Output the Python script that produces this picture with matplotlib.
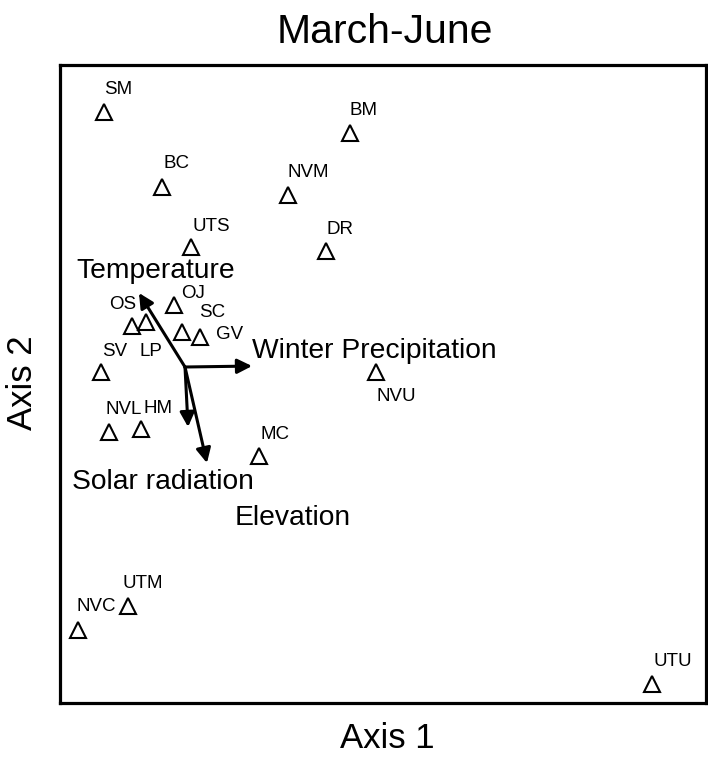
import numpy as np
import matplotlib.pyplot as plt

plt.rcParams['font.family'] = ['Liberation Sans', 'DejaVu Sans']

# site scores on the two ordination axes
sites = ['SM', 'BM', 'BC', 'NVM', 'UTS', 'DR', 'OJ', 'OS', 'LP', 'SC', 'GV',
         'SV', 'NVU', 'NVL', 'HM', 'MC', 'UTM', 'NVC', 'UTU']
axis1 = [-0.50, 1.02, -0.14, 0.64, 0.04, 0.87, -0.07, -0.33, -0.24, -0.02, 0.09,
         -0.52, 1.18, -0.47, -0.27, 0.46, -0.35, -0.66, 2.89]
axis2 = [1.60, 1.47, 1.13, 1.08, 0.75, 0.73, 0.39, 0.26, 0.28, 0.22, 0.19,
         -0.03, -0.03, -0.41, -0.39, -0.56, -1.50, -1.65, -1.99]

# environmental vectors
env_vars = ['Temperature', 'Winter Precipitation', 'Solar radiation', 'Elevation']
env_x = [-0.285, 0.415, 0.019, 0.136]
env_y = [0.464, 0.006, -0.376, -0.602]

# label placement (pixels from the marker / arrow tip)
site_off = {'SM': (14, 18), 'BM': (14, 18), 'BC': (14, 19), 'NVM': (20, 18),
            'UTS': (20, 16), 'DR': (14, 17), 'OJ': (19, 7), 'OS': (-9, 17),
            'LP': (5, -34), 'SC': (30, 15), 'GV': (30, -2), 'SV': (14, 16),
            'NVU': (21, -29), 'NVL': (15, 18), 'HM': (17, 16), 'MC': (16, 17),
            'UTM': (14, 18), 'NVC': (18, 19), 'UTU': (21, 18)}
env_off = [(-63, 15), (0, 8), (-116, -62), (28, -62)]

fig = plt.figure(figsize=(7.08, 7.57), dpi=100)
ax = fig.add_axes([60 / 708, 54 / 757, 646 / 708, 638 / 757])

ax.plot(axis1, axis2, '^', ms=11.5, mfc='white', mec='black', mew=1.5,
        linestyle='none', zorder=3)
for s, x, y in zip(sites, axis1, axis2):
    ax.annotate(s, (x, y), xytext=site_off[s], textcoords='offset pixels',
                ha='center', va='baseline', fontsize=13.5)

for name, x, y, off in zip(env_vars, env_x, env_y, env_off):
    ax.annotate('', xy=(x, y), xytext=(0, 0),
                arrowprops=dict(arrowstyle='-|>', lw=2.2, color='black',
                                mutation_scale=22, shrinkA=0, shrinkB=0))
    ax.annotate(name, (x, y), xytext=off, textcoords='offset pixels',
                ha='left', va='baseline', fontsize=20.3)

ax.set_xlim(-125 / 161.5, 521 / 161.5)
ax.set_ylim(-336 / 159.5, 302 / 159.5)
ax.set_xticks([])
ax.set_yticks([])
for sp in ax.spines.values():
    sp.set_linewidth(2.3)

fig.text(385 / 708, (757 - 43) / 757, 'March-June', ha='center', va='baseline',
         fontsize=29.5)
fig.text(387 / 708, (757 - 748) / 757, 'Axis 1', ha='center', va='baseline',
         fontsize=25)
fig.text(23 / 708, (757 - 383) / 757, 'Axis 2', ha='center', va='center',
         rotation=90, fontsize=25)

fig.savefig('out.png', dpi=100)
